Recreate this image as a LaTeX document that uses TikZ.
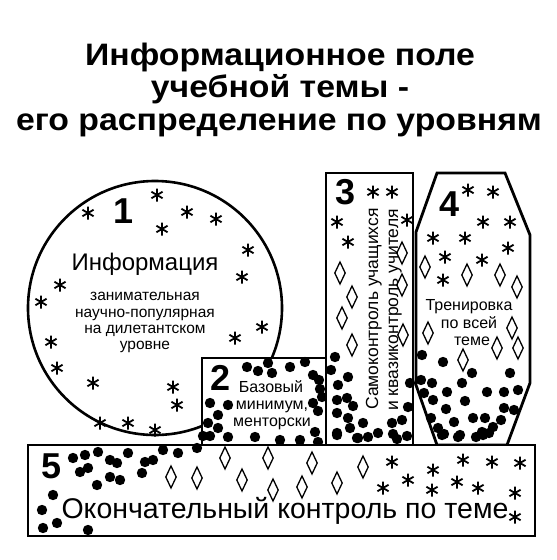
\documentclass[tikz,border=0pt]{standalone}
\usepackage{fontspec}
\setmainfont{Liberation Sans}
\newcommand\setfs[1]{\fontsize{#1}{#1}\selectfont}
\begin{document}
\begin{tikzpicture}[x=1pt,y=-1pt,
  box/.style={line width=2.8pt},
  astk/.pic={\draw[line width=1.8pt] (0,-6.5)--(0,6.5) (-5.6,-3.25)--(5.6,3.25) (-5.6,3.25)--(5.6,-3.25);},
  dmd/.pic={\draw[line width=1.3pt] (0,-11)--(5.2,0)--(0,11)--(-5.2,0)--cycle;},
  title/.style={font=\bfseries\setfs{31}, anchor=base, xscale=1.09},
  num/.style={font=\bfseries\setfs{36}, anchor=center, inner sep=0pt},
  lbl/.style={font=\setfs{15.5}, anchor=base, inner sep=0pt},
  big/.style={font=\setfs{24}, anchor=base, inner sep=0pt}]
\useasboundingbox (0,0) rectangle (557,560);
\fill[white] (0,0) rectangle (557,560);
% title
\node[title] (t1) at (280,65) {Информационное поле};
\node[title] (t2) at (280,97) {учебной темы -};
\node[title] (t3) at (279,130) {его распределение по уровням};
% circle 1
\draw[line width=2.6pt] (155,308) circle (127);
\foreach \p in {(88,213),(157,195),(187,212),(216,219),(162,229),(248,250),(242,277),(60,285),(41,302),(262,327),(235,338),(51,342),(57,368),(93,383),(173,387),(177,405),(100,423),(128,423),(155,430)}
  \pic at \p {astk};
\node[num] (n1) at (124,211) {1};
\node[big] (info) at (145,270) {Информация};
\node[lbl] (c1) at (145,300) {занимательная};
\node[lbl] (c2) at (145,317) {научно-популярная};
\node[lbl] (c3) at (145,333) {на дилетантском};
\node[lbl] (c4) at (145,349) {уровне};
% box 2
\draw[box, fill=white] (202,358) rectangle (326,445);
\node[num] (n2) at (221,378) {2};
\node[lbl, font=\setfs{16}] (b1) at (271,392) {Базовый};
\node[lbl, font=\setfs{16}] (b2) at (272,409) {минимум,};
\node[lbl, font=\setfs{16}] (b3) at (272,426) {менторски};
\foreach \p in {(247,367),(258,371),(268,363),(272,373),(290,367),(305,362),(313,375),(319,380),(320,389),(322,397),(313,403),(318,411),(210,403),(228,405),(218,415),(208,423),(218,428),(210,436),(228,437),(255,437),(280,440),(300,440),(315,432),(318,442),(203,436)}
  \fill \p circle (5.2);
% box 3
\draw[box, fill=white] (326,173) rectangle (413,445);
\node[num] (n3) at (346,192) {3};
\node[lbl, font=\setfs{17.5}, anchor=base west, rotate=90] (s1) at (378,410) {Самоконтроль учащихся};
\node[lbl, font=\setfs{17.5}, anchor=base west, rotate=90] (s2) at (398,411) {и квазиконтроль учителя};
\foreach \p in {(373,192),(392,192),(337,222),(407,220),(348,242)}
  \pic at \p {astk};
\foreach \p in {(402,253),(340,273),(402,285),(352,297),(342,318),(403,335),(352,345)}
  \pic at \p {dmd};
\foreach \p in {(335,357),(331,370),(348,377),(338,385),(337,400),(347,398),(353,406),(337,413),(348,418),(363,423),(350,428),(337,433),(358,438),(368,437),(378,433),(392,423),(402,420),(408,407),(410,383),(393,434),(407,436),(397,439)}
  \fill \p circle (5.2);
% box 4
\draw[box, fill=white] (437,173) -- (505,173) -- (530,235) -- (530,383) -- (507,445) -- (437,445) -- (416,385) -- (416,232) -- cycle;
\node[num] (n4) at (450,204) {4};
\foreach \p in {(468,190),(493,192),(483,222),(510,222),(433,238),(465,238),(508,248),(445,257),(482,260),(443,280)}
  \pic at \p {astk};
\foreach \p in {(425,267),(467,275),(500,275),(517,287),(428,333),(512,328),(497,348),(518,348),(463,360)}
  \pic at \p {dmd};
\node[lbl, font=\setfs{16}] (r1) at (469,310) {Тренировка};
\node[lbl, font=\setfs{16}] (r2) at (469,328) {по всей};
\node[lbl, font=\setfs{16}] (r3) at (472,345) {теме};
\foreach \p in {(422,355),(443,362),(472,373),(510,373),(421,380),(432,383),(462,383),(447,392),(424,393),(487,392),(504,392),(518,390),(433,400),(465,401),(446,409),(504,408),(514,410),(473,418),(485,418),(501,420),(431,418),(454,422),(438,428),(493,427),(444,434),(460,435),(476,437),(482,432),(489,433)}
  \fill \p circle (5.2);
% box 5
\draw[box, fill=white] (28,445) rectangle (535,536);
\node[num] (n5) at (52,466) {5};
\foreach \p in {(73,458),(85,455),(80,472),(88,468),(98,452),(110,460),(117,463),(110,477),(120,480),(97,485),(128,453),(145,462),(153,460),(142,473),(163,450),(178,453),(197,448),(53,495),(42,510),(57,523),(43,528),(88,530)}
  \fill \p circle (5.2);
\foreach \p in {(171,477),(197,478),(225,458),(242,480),(268,458),(273,490),(302,487),(312,463),(337,483),(363,467)}
  \pic at \p {dmd};
\foreach \p in {(392,462),(383,488),(408,480),(433,470),(432,490),(463,460),(457,482),(478,488),(492,462),(520,463),(515,493),(515,517)}
  \pic at \p {astk};
\node[big, font=\setfs{28.5}] (fin) at (285,518) {Окончательный контроль по теме};
% dots across borders
\foreach \p in {(337,435),(357,438),(442,435),(458,437),(483,435)}
  \fill \p circle (5.2);
\end{tikzpicture}
\end{document}
